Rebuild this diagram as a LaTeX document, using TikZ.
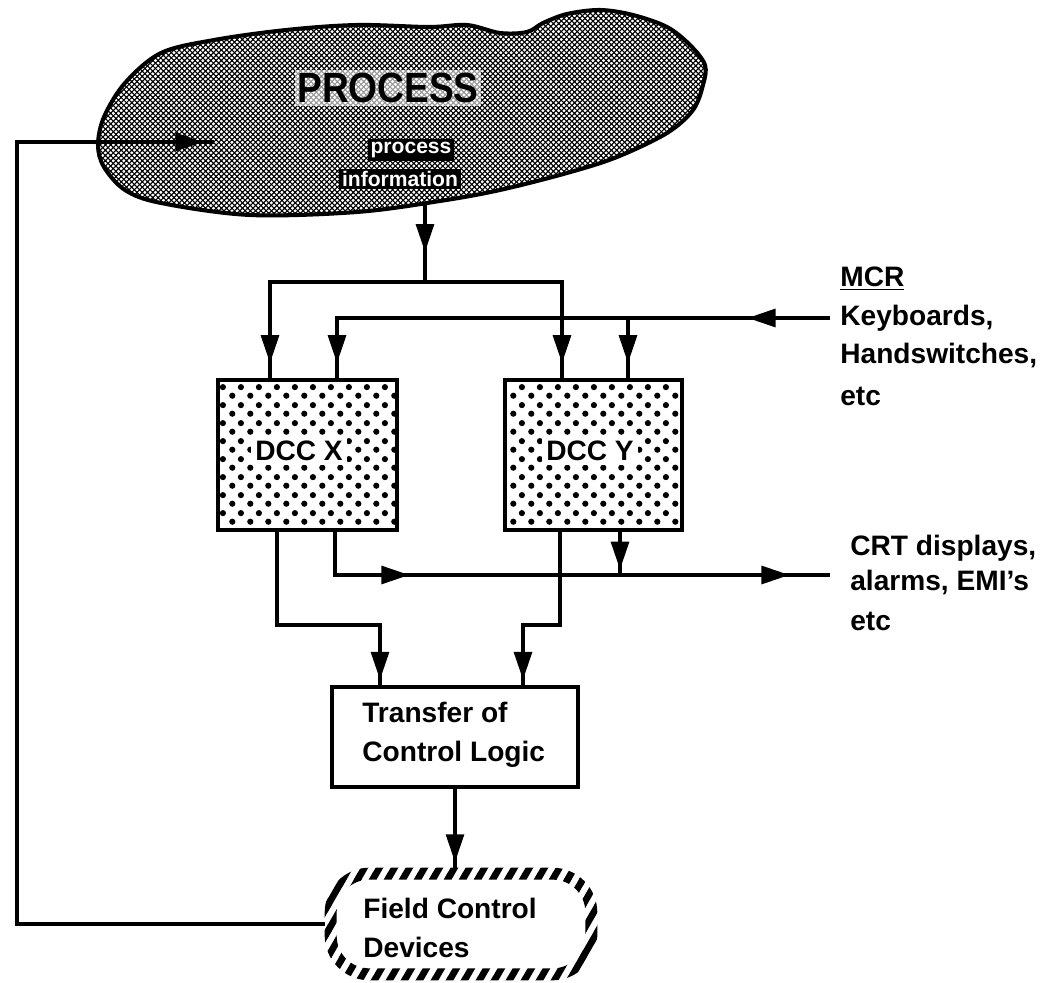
\documentclass[tikz,border=0pt]{standalone}
\usepackage{fontspec}
\setmainfont{Liberation Sans}
\usetikzlibrary{arrows.meta,decorations.markings,patterns,calc}

\pgfdeclarepatternformonly{cloudhatch}{\pgfqpoint{-0.5pt}{-0.5pt}}{\pgfqpoint{3.5pt}{3.5pt}}{\pgfqpoint{3pt}{3pt}}{%
  \pgfsetlinewidth{0.6pt}%
  \pgfpathmoveto{\pgfqpoint{-0.5pt}{-0.5pt}}\pgfpathlineto{\pgfqpoint{3.5pt}{3.5pt}}%
  \pgfpathmoveto{\pgfqpoint{-0.5pt}{3.5pt}}\pgfpathlineto{\pgfqpoint{3.5pt}{-0.5pt}}%
  \pgfusepath{stroke}}

\pgfdeclarepatternformonly{bigdots}{\pgfqpoint{0pt}{0pt}}{\pgfqpoint{10pt}{10pt}}{\pgfqpoint{10pt}{10pt}}{%
  \pgfpathcircle{\pgfqpoint{2.5pt}{2.5pt}}{1.8pt}%
  \pgfpathcircle{\pgfqpoint{7.5pt}{7.5pt}}{1.8pt}%
  \pgfusepath{fill}}

\pgfdeclarepatternformonly{fieldstripes}{\pgfqpoint{0pt}{0pt}}{\pgfqpoint{8.5pt}{14.7pt}}{\pgfqpoint{8.5pt}{14.7pt}}{%
  \pgfsetlinewidth{3.8pt}%
  \pgfpathmoveto{\pgfqpoint{-10.2pt}{-2.94pt}}\pgfpathlineto{\pgfqpoint{1.7pt}{17.64pt}}%
  \pgfpathmoveto{\pgfqpoint{-1.7pt}{-2.94pt}}\pgfpathlineto{\pgfqpoint{10.2pt}{17.64pt}}%
  \pgfpathmoveto{\pgfqpoint{6.8pt}{-2.94pt}}\pgfpathlineto{\pgfqpoint{18.7pt}{17.64pt}}%
  \pgfusepath{stroke}}

\tikzset{
  ln/.style={line width=2.4pt},
  ar/.style={postaction={decorate,decoration={markings,
      mark=at position #1 with {\arrow{Triangle[length=16pt,width=10pt]}}}}},
  dccbox/.style={draw,line width=2.5pt,pattern=bigdots,inner sep=0pt},
  plainbox/.style={draw,line width=2.5pt,fill=white,inner sep=0pt},
  lbl/.style={font=\fontsize{16}{19}\selectfont\bfseries,inner sep=0pt},
  lbltwo/.style={font=\fontsize{16}{22.5}\selectfont\bfseries,inner sep=0pt,align=left,anchor=west},
  infobar/.style={fill=black,text=white,font=\fontsize{12}{14}\selectfont\bfseries,inner sep=1.5pt},
}

\begin{document}
\begin{tikzpicture}[x=0.02cm,y=-0.02cm]
\useasboundingbox (0,0) rectangle (1042,983);

% ---------- PROCESS cloud ----------
\draw[line width=2.3pt,pattern=cloudhatch] plot[smooth cycle,tension=0.55] coordinates {
 (98,145) (104,117) (125,83) (161,53) (214,40) (286,30) (357,25) (429,27)
 (467,25) (500,33) (527,32) (543,23) (567,14) (600,10) (633,15) (667,27)
 (690,45) (705,65) (703,85) (693,110) (667,133) (617,157) (567,173)
 (500,190) (440,201) (357,212) (250,215) (161,203) (125,190) (104,167)};

\node[font=\fontsize{24}{28}\selectfont\bfseries,fill=white,fill opacity=0.6,
      text opacity=1,inner sep=1.5pt] (proc) at (388,88) {\scalebox{0.88}[1]{PROCESS}};
\node[infobar] (pinfo1) at (411,150) {process};
\node[infobar] (pinfo2) at (400,179) {information};

\coordinate (cloudin) at (214,142);
\coordinate (cloudout) at (425,203);

% ---------- DCC boxes ----------
\node[dccbox,minimum width=3.58cm,minimum height=3cm] (dx) at (307.5,455) {};
\node[dccbox,minimum width=3.54cm,minimum height=3cm] (dy) at (593.5,455) {};
\node[lbl,fill=white,inner sep=2.5pt] (dxl) at (299,451) {DCC X};
\node[lbl,fill=white,inner sep=2.5pt] (dyl) at (590,451) {DCC Y};

% ---------- Transfer of Control Logic ----------
\node[plainbox,minimum width=4.92cm,minimum height=2cm] (tf) at (455,737) {};
\node[lbltwo] (tft) at (362,735) {Transfer of\\Control Logic};

% ---------- Field Control Devices ----------
\node[inner sep=0pt,minimum width=5.44cm,minimum height=2.24cm] (fcd) at (461,924) {};
\fill[pattern=fieldstripes,even odd rule]
  [rounded corners=0.9cm] (fcd.north west) rectangle (fcd.south east)
  [rounded corners=0.65cm] ($(fcd.north west)+(12,12)$) rectangle ($(fcd.south east)+(-12,-12)$);
\node[lbltwo,font=\fontsize{16}{22.2}\selectfont\bfseries] (fct) at (363,928) {Field Control\\Devices};

% ---------- right-hand texts ----------
\node[lbl,anchor=base west] (mcr) at (840,287) {\underline{MCR}};
\node[lbl,anchor=base west] (kb)  at (840,326) {Keyboards,};
\node[lbl,anchor=base west] (hs)  at (840,364) {Handswitches,};
\node[lbl,anchor=base west] (etca) at (840,405) {etc};
\node[lbl,anchor=base west] (crt) at (850,555) {CRT displays,};
\node[lbl,anchor=base west] (alm) at (850,590) {alarms, EMI's};
\node[lbl,anchor=base west] (etcb) at (850,630) {etc};

% ---------- connector points ----------
\coordinate (kbin) at (830,318);
\coordinate (crtout) at (830,575);
\coordinate (jt) at (425,282);
\coordinate (jm) at (628,318);
\coordinate (dxi1) at (270,380);
\coordinate (dxi2) at (337,380);
\coordinate (dyi1) at (562,380);
\coordinate (dyi2) at (628,380);
\coordinate (dxo1) at (277,530);
\coordinate (dxo2) at (335,530);
\coordinate (dyo1) at (560,530);
\coordinate (dyo2) at (620,530);
\coordinate (k1) at (380,625);
\coordinate (k2) at (523,625);
\coordinate (tfi1) at (380,687);
\coordinate (tfi2) at (523,687);
\coordinate (fbx) at (17,500);

% ---------- connectors ----------
\draw[ln,ar=-6pt] (fcd.west) -| (cloudin -| fbx) -- (cloudin);
\draw[ln,ar=28pt] (cloudout) -- (jt);
\draw[ln,ar=-9.5pt] (jt) -| (dxi1);
\draw[ln,ar=-9.5pt] (jt) -| (dyi1);
\draw[ln,ar=47pt] (kbin) -- (jm);
\draw[ln,ar=-9.5pt] (jm) -| (dxi2);
\draw[ln,ar=-9.5pt] (jm) -- (dyi2);
\draw[ln,ar=-4pt] (dxo1) |- (k1) -- (tfi1);
\draw[ln,ar=-4pt] (dyo1) |- (k2) -- (tfi2);
\draw[ln,ar=68pt,ar=-23pt] (dxo2) |- (crtout);
\draw[ln,ar=-3pt] (dyo2) -- (dyo2 |- crtout);
\draw[ln,ar=-3pt] (tf.south) -- (tf.south |- fcd.north);
\end{tikzpicture}
\end{document}
